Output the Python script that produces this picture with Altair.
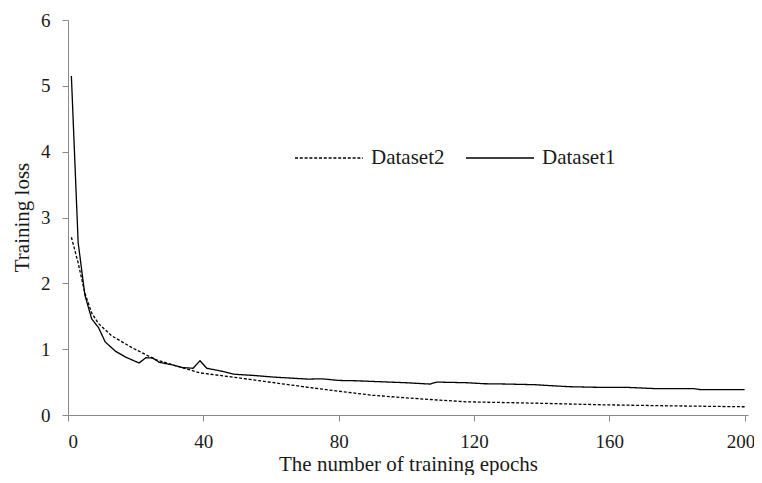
import altair as alt
import pandas as pd

# Dataset1 (solid line): epoch, training loss
epochs1 = [1, 3, 5, 7, 9, 11, 14, 17, 21, 23, 25, 27, 31, 34, 37, 39, 41, 45, 49,
           55, 61, 66, 71, 75, 80, 85, 90, 95, 100, 107, 109, 118, 123, 130, 138,
           148, 157, 165, 174, 185, 187, 200]
loss1 = [5.15, 2.62, 1.82, 1.46, 1.33, 1.11, 0.97, 0.88, 0.79, 0.87, 0.865, 0.80,
         0.76, 0.72, 0.71, 0.825, 0.71, 0.67, 0.62, 0.60, 0.575, 0.56, 0.545, 0.55,
         0.525, 0.52, 0.51, 0.50, 0.49, 0.47, 0.50, 0.49, 0.475, 0.47, 0.46, 0.43,
         0.42, 0.42, 0.40, 0.40, 0.385, 0.385]

# Dataset2 (dashed line)
epochs2 = [1, 3, 5, 7, 9, 13, 19, 26, 33, 39, 51, 61, 71, 81, 90, 100, 110, 118,
           138, 158, 177, 200]
loss2 = [2.70, 2.31, 1.85, 1.55, 1.39, 1.20, 1.02, 0.84, 0.73, 0.64, 0.56, 0.49,
         0.42, 0.355, 0.30, 0.26, 0.225, 0.20, 0.18, 0.155, 0.14, 0.125]

series_names = ["Dataset2", "Dataset1"]
x_ticks = [0, 40, 80, 120, 160, 200]
y_ticks = [0, 1, 2, 3, 4, 5, 6]

df = pd.concat([
    pd.DataFrame({"epoch": epochs1, "loss": loss1, "series": "Dataset1"}),
    pd.DataFrame({"epoch": epochs2, "loss": loss2, "series": "Dataset2"}),
])

FONT = "Liberation Serif"
AXIS_COLOR = "#8a8a8a"
TEXT_COLOR = "#1a1a1a"

chart = alt.Chart(df).mark_line(color="black", strokeWidth=1.3).encode(
    x=alt.X("epoch:Q",
            scale=alt.Scale(domain=[0, 201], nice=False, zero=False),
            axis=alt.Axis(values=x_ticks, title="The number of training epochs",
                          grid=False, domainColor=AXIS_COLOR, tickColor=AXIS_COLOR,
                          tickSize=6, labelFont=FONT, labelFontSize=19,
                          labelColor=TEXT_COLOR, labelPadding=11,
                          labelOffset={"condition": {"test": "datum.value == 200", "value": -4}, "value": 0},
                          titleFont=FONT, titleFontSize=21, titleFontWeight="normal",
                          titleColor=TEXT_COLOR, titleY=49, titleBaseline="middle")),
    y=alt.Y("loss:Q",
            scale=alt.Scale(domain=[0, 6], nice=False),
            axis=alt.Axis(values=y_ticks, title="Training loss", grid=False,
                          domainColor=AXIS_COLOR, tickColor=AXIS_COLOR, tickSize=6,
                          labelFont=FONT, labelFontSize=19, labelColor=TEXT_COLOR,
                          labelPadding=12, titleFont=FONT, titleFontSize=21,
                          titleFontWeight="normal", titleColor=TEXT_COLOR,
                          titleX=-46, titleY=197, titleAngle=-90,
                          titleBaseline="middle", titleAlign="center")),
    strokeDash=alt.StrokeDash("series:N",
        scale=alt.Scale(domain=series_names, range=[[3, 1.8], [1, 0]]),
        legend=alt.Legend(orient="none", legendX=226, legendY=103,
                          direction="horizontal", title=None,
                          symbolType="stroke", symbolSize=4624,
                          symbolStrokeWidth=1.3, symbolStrokeColor="black",
                          labelFont=FONT, labelFontSize=21, labelColor=TEXT_COLOR,
                          labelOffset=7, columnPadding=18, padding=0)),
    order=alt.Order("epoch:Q"),
).properties(
    width=680,
    height=395,
    autosize=alt.AutoSizeParams(type="none"),
    padding={"left": 60, "top": 12, "right": 6, "bottom": 60},
).configure_view(stroke=None)

chart.save("out.html", embed_options={"renderer": "svg", "actions": False})
